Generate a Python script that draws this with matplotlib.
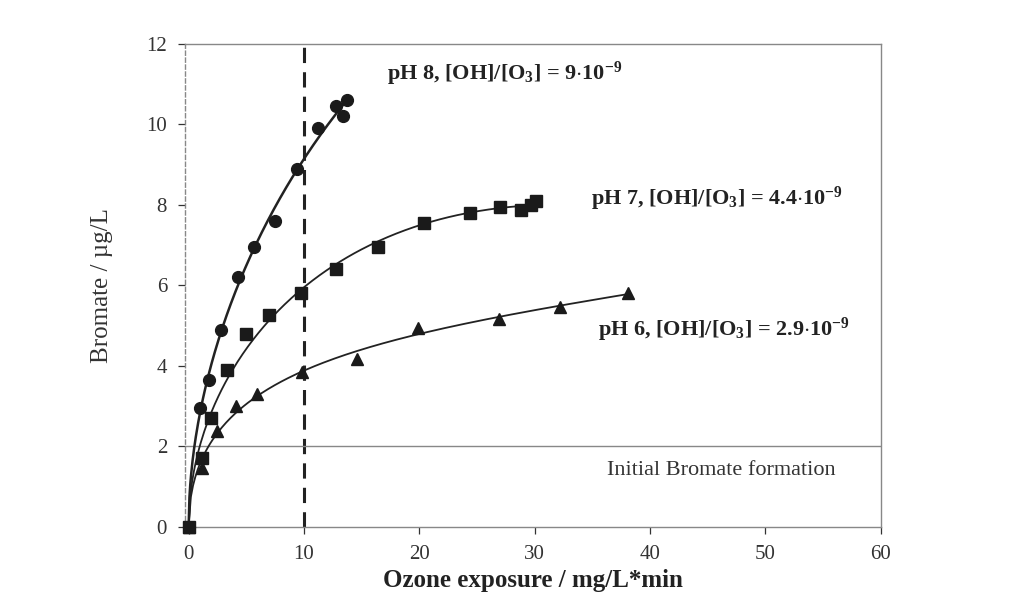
import numpy as np
import matplotlib.pyplot as plt

plt.rcParams['font.family'] = ['Liberation Serif', 'DejaVu Serif']
plt.rcParams['mathtext.fontset'] = 'custom'
plt.rcParams['mathtext.rm'] = 'Liberation Serif:bold'
plt.rcParams['mathtext.it'] = 'Liberation Serif:bold'
plt.rcParams['mathtext.bf'] = 'Liberation Serif:bold'

# ozone exposure (mg/L*min) and bromate (ug/L)
x_ph8 = [0, 1.0, 1.8, 2.8, 4.3, 5.7, 7.5, 9.4, 11.2, 12.8, 13.4, 13.7]
y_ph8 = [0, 2.95, 3.65, 4.9, 6.2, 6.95, 7.6, 8.9, 9.9, 10.45, 10.2, 10.6]

x_ph7 = [0, 1.2, 1.9, 3.3, 5.0, 7.0, 9.7, 12.8, 16.4, 20.4, 24.4, 27.0, 28.8, 29.7, 30.1]
y_ph7 = [0, 1.7, 2.7, 3.9, 4.8, 5.25, 5.8, 6.4, 6.95, 7.55, 7.8, 7.95, 7.87, 8.0, 8.1]

x_ph6 = [0, 1.2, 2.5, 4.1, 5.9, 9.8, 14.6, 19.9, 26.9, 32.2, 38.1]
y_ph6 = [0, 1.47, 2.38, 3.0, 3.3, 3.84, 4.18, 4.95, 5.17, 5.45, 5.82]

labels = [r'pH 8, [OH]/[O$_3$] = 9$\cdot$10$^{-9}$',
          r'pH 7, [OH]/[O$_3$] = 4.4$\cdot$10$^{-9}$',
          r'pH 6, [OH]/[O$_3$] = 2.9$\cdot$10$^{-9}$']


def smooth(x, y):
    # least squares fit y = a*sqrt(x) + b*x + c*x^1.5 through the points
    x = np.array(x, float)
    y = np.array(y, float)
    A = np.column_stack([np.sqrt(x), x, x**1.5])
    c = np.linalg.lstsq(A, y, rcond=None)[0]
    xs = np.linspace(0, x.max(), 200)
    return xs, c[0]*np.sqrt(xs) + c[1]*xs + c[2]*xs**1.5


fig = plt.figure(figsize=(10.23, 6.07), dpi=100)
ax = fig.add_axes([0.181, 0.132, 0.680, 0.796])

for xs, ys, m, ms, lw in [(x_ph8, y_ph8, 'o', 8.5, 1.8),
                          (x_ph7, y_ph7, 's', 8, 1.3),
                          (x_ph6, y_ph6, '^', 8, 1.3)]:
    cx, cy = smooth(xs, ys)
    ax.plot(cx, cy, color='#222222', lw=lw, zorder=2)
    ax.plot(xs, ys, m, color='#1a1a1a', ms=ms, zorder=3, clip_on=False)

ax.axvline(10, color='#222222', lw=2.2, ls=(0, (5, 3)), zorder=1)
ax.axhline(2, color='#888888', lw=1.0, zorder=1)

ax.text(17.2, 11.25, labels[0], fontsize=16, fontweight='bold', color='#222222',
        va='center')
ax.text(34.9, 8.15, labels[1], fontsize=16, fontweight='bold', color='#222222',
        va='center')
ax.text(35.5, 4.9, labels[2], fontsize=16, fontweight='bold', color='#222222',
        va='center')
ax.text(36.3, 1.4, 'Initial Bromate formation', fontsize=16, color='#333333',
        va='center')

ax.set_xlim(-0.3, 60)
ax.set_ylim(0, 12)
ax.set_xticks(range(0, 61, 10))
ax.set_yticks(range(0, 13, 2))
ax.tick_params(labelsize=15, colors='#333333', length=5, width=0.9, pad=8)
for s in ax.spines.values():
    s.set_color('#888888')
    s.set_linewidth(1.0)
ax.spines['left'].set_linestyle((0, (3, 2)))

ax.set_xlabel('Ozone exposure / mg/L*min', fontsize=18, fontweight='bold',
              color='#222222', labelpad=4)
ax.set_ylabel('Bromate / µg/L', fontsize=18, color='#333333', labelpad=24)

fig.savefig('out.png', dpi=100, facecolor='white')
